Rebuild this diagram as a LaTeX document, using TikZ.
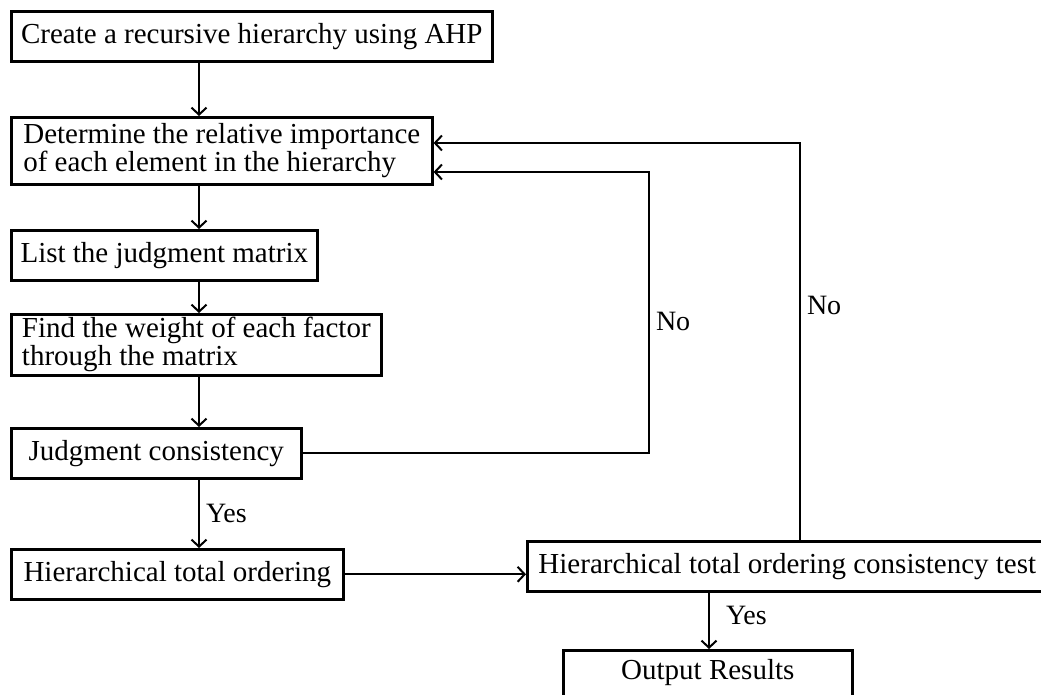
\documentclass[tikz,border=0pt]{standalone}
\usepackage{fontspec}
\setmainfont{Liberation Serif}
\usetikzlibrary{arrows.meta}
\begin{document}
\begin{tikzpicture}[x=1pt,y=-1pt,line width=2pt,>={Straight Barb[length=7pt,width=15pt]}]
\tikzstyle{stage}=[draw, line width=2.6pt, anchor=north west, inner xsep=7pt, inner ysep=0pt, minimum height=50pt, font=\fontsize{29}{28}\selectfont]
\tikzstyle{answer}=[right, font=\fontsize{28}{28}\selectfont, inner xsep=6pt]

\useasboundingbox (0,0) rectangle (1041,694);

\node[stage, minimum width=481pt] (create) at (10,10) {Create a recursive hierarchy using AHP};
\node[stage, align=left, minimum width=421pt, minimum height=67pt] (importance) at (10,116) {Determine the relative importance\\of each element in the hierarchy};
\node[stage, minimum width=306pt] (matrix) at (10,229) {List the judgment matrix};
\node[stage, align=left, minimum width=370pt, minimum height=61pt] (weight) at (10,313) {Find the weight of each factor\\through the matrix};
\node[stage, minimum width=290pt] (single) at (10,427) {Judgment consistency};
\node[stage, minimum width=332pt] (total) at (10,548) {Hierarchical total ordering};
\node[stage, minimum width=520pt] (totaltest) at (526,540) {Hierarchical total ordering consistency test};
\node[stage, minimum width=289pt, inner ysep=9pt, text height=20pt, text depth=30pt] (output) at (562,649) {Output Results};

\coordinate (spine) at (199,0);
\coordinate (outspine) at (709,0);
\coordinate (innerTop) at (649,172);
\coordinate (outerTop) at (800,143);

\draw[->] (create.south -| spine) -- (importance.north -| spine);
\draw[->] (importance.south -| spine) -- (matrix.north -| spine);
\draw[->] (matrix.south -| spine) -- (weight.north -| spine);
\draw[->] (weight.south -| spine) -- (single.north -| spine);
\draw[->] (single.south -| spine) -- node[answer]{Yes} (total.north -| spine);
\draw[->] (total.east) -- (total.east -| totaltest.west);
\draw[->] (totaltest.south -| outspine) -- node[answer, pos=0.4, xshift=10pt]{Yes} (output.north -| outspine);
\draw[->] (single.east) -- (single.east -| innerTop) -- node[answer, pos=0.47]{No} (innerTop) -- (innerTop -| importance.east);
\draw[->] (totaltest.north -| outerTop) -- node[answer, pos=0.59]{No} (outerTop) -- (outerTop -| importance.east);
\end{tikzpicture}
\end{document}
